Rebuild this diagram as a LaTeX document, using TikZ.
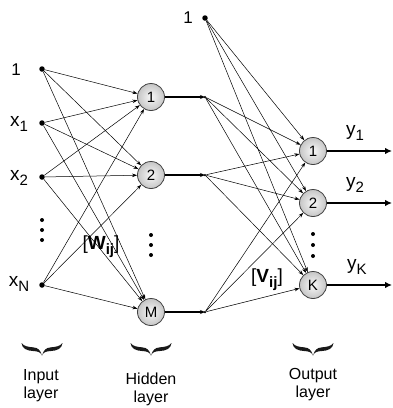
\documentclass[tikz,border=0pt]{standalone}
\usepackage{fontspec}
\setmainfont{Liberation Sans}
\usetikzlibrary{arrows.meta}
\newcommand\sbs[1]{\raisebox{-5pt}{\fontsize{15}{15}\selectfont #1}}
\begin{document}
\begin{tikzpicture}[x=1pt,y=-1pt,
  neuron/.style={circle,draw=black!75,line width=0.8pt,inner sep=0pt,minimum size=27pt,
     shading=radial,inner color=gray!5,outer color=gray!45,font=\fontsize{15}{15}\selectfont},
  indot/.style={circle,fill=black,inner sep=0pt,minimum size=5.5pt},
  tinydot/.style={circle,fill=black,inner sep=0pt,minimum size=2.5pt},
  lbl/.style={font=\fontsize{19}{19}\selectfont,inner sep=0pt},
  one/.style={font=\fontsize{17}{17}\selectfont,inner sep=0pt},
  conn/.style={line width=0.5pt,-{Stealth[length=5pt,width=3.5pt]}},
  thick line/.style={line width=1.3pt},
  outarrow/.style={line width=1.3pt,-{Latex[length=7pt,width=6.5pt]}},
  vdots/.style={circle,fill=black,inner sep=0pt,minimum size=4pt},
  lay/.style={font=\fontsize{16}{18}\selectfont,align=center,inner sep=0pt},
  halfbrace/.pic={\fill[black!90] (-20.5,0) .. controls (-20,5.5) and (-15,7.8) .. (-9,8)
      .. controls (-4,8.2) and (-1,9.5) .. (0,12.5)
      .. controls (-1.5,7.2) and (-4,4.6) .. (-9,4.3)
      .. controls (-14,4) and (-18.5,3) .. (-20.5,0) -- cycle;},
  bracepic/.pic={\pic {halfbrace}; \pic[xscale=-1] {halfbrace};}]
\useasboundingbox (0,0) rectangle (392,408);
% input dots
\node[indot] (i0) at (42,69) {};
\node[indot] (i1) at (42,123) {};
\node[indot] (i2) at (42,177) {};
\node[indot] (iN) at (42,285) {};
\node[one] (l0) at (16,70) {1};
\node[lbl] (l1) at (19,124) {x\sbs{1}};
\node[lbl] (l2) at (19,178) {x\sbs{2}};
\node[lbl] (lN) at (19,284) {x\sbs{N}};
\node[vdots] (d1) at (42,220) {};
\node[vdots] (d2) at (42,230) {};
\node[vdots] (d3) at (42,240) {};
% hidden
\node[neuron] (h1) at (151,97) {1};
\node[neuron] (h2) at (151,175) {2};
\node[neuron] (hM) at (151,312) {M};
\node[vdots] (e1) at (151,235) {};
\node[vdots] (e2) at (151,245) {};
\node[vdots] (e3) at (151,255) {};
\node[tinydot] (t1) at (205,97) {};
\node[tinydot] (t2) at (205,175) {};
\node[tinydot] (tM) at (205,312) {};
\node[indot] (b) at (205,18) {};
\node[one] (lb) at (188,18) {1};
% output
\node[neuron] (o1) at (313,151) {1};
\node[neuron] (o2) at (313,203) {2};
\node[neuron] (oK) at (313,285) {K};
\node[vdots] (f1) at (313,234) {};
\node[vdots] (f2) at (313,245) {};
\node[vdots] (f3) at (313,256) {};
\coordinate (y1e) at (392,151);
\coordinate (y2e) at (392,203);
\coordinate (yKe) at (392,285);
\node[lbl] (ly1) at (355,133) {y\sbs{1}};
\node[lbl] (ly2) at (355,185) {y\sbs{2}};
\node[lbl] (lyK) at (357,267) {y\sbs{K}};
\node[lbl] (W) at (101,247) {[\textbf{W}\sbs{\textbf{ij}}]};
\node[lbl] (V) at (267,280) {[\textbf{V}\sbs{\textbf{ij}}]};
% connections
\foreach \s in {i0,i1,i2,iN}
  \foreach \t in {h1,h2,hM}
    \draw[conn] (\s) -- (\t);
\foreach \s in {t1,t2,tM,b}
  \foreach \t in {o1,o2,oK}
    \draw[conn] (\s) -- (\t);
\foreach \h/\t in {h1/t1,h2/t2,hM/tM}
  \draw[thick line,-{Stealth[length=5pt,width=4pt]}] (\h) -- (\t.center);
\draw[outarrow] (o1) -- (y1e);
\draw[outarrow] (o2) -- (y2e);
\draw[outarrow] (oK) -- (yKe);
% braces
\pic at (42,343) {bracepic};
\pic at (151,343) {bracepic};
\pic at (313,343) {bracepic};
\node[lay] (Li) at (41,386) {Input\\layer};
\node[lay] (Lh) at (151,389) {Hidden\\layer};
\node[lay] (Lo) at (313,385) {Output\\layer};
\end{tikzpicture}
\end{document}
